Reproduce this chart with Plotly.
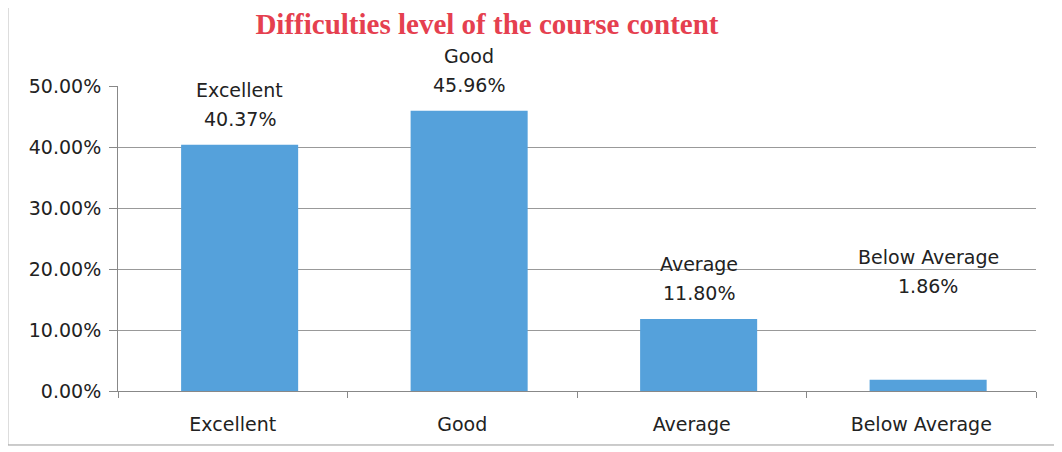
import plotly.graph_objects as go

categories = ["Excellent", "Good", "Average", "Below Average"]
values = [40.37, 45.96, 11.80, 1.86]
# where Excel left each data label (Below Average was dragged up by hand)
label_y = [40.37, 45.96, 11.80, 13.0]
y_ticks = [0, 10, 20, 30, 40, 50]
y_tick_text = ["0.00%", "10.00%", "20.00%", "30.00%", "40.00%", "50.00%"]

label_font = dict(family="DejaVu Sans, sans-serif", size=19, color="#222")

fig = go.Figure()
fig.add_trace(go.Bar(
    x=categories, y=values, width=0.51, offset=-0.225,
    marker=dict(color="#55A1DB", line=dict(width=0)),
    hovertemplate="%{x}: %{y:.2f}%<extra></extra>",
))

for cat, val, ly in zip(categories, values, label_y):
    # value line just above the bar, category name one line higher
    fig.add_annotation(x=cat, y=ly, text=f"{val:.2f}%", showarrow=False,
                       xshift=7, yanchor="middle", yshift=26, font=label_font)
    fig.add_annotation(x=cat, y=ly, text=cat, showarrow=False,
                       xshift=7, yanchor="middle", yshift=55, font=label_font)

# outer chart border like the Excel chart area
fig.add_shape(type="rect", xref="paper", yref="paper",
              x0=-0.12, x1=1.024, y0=-0.177, y1=1.3,
              line=dict(color="#999", width=1))

fig.update_layout(
    title=dict(text="<b>Difficulties level of the course content</b>",
               xref="container", x=0.451, xanchor="center",
               yref="container", y=0.964, yanchor="middle",
               font=dict(family="Liberation Serif, Times New Roman, serif", size=29, color="#E5404F")),
    width=1062, height=452,
    margin=dict(l=110, r=34, t=78, b=69),
    paper_bgcolor="white", plot_bgcolor="white",
    showlegend=False,
    font=label_font,
)
fig.update_xaxes(
    showline=True, linecolor="#888", linewidth=1,
    ticks="outside", tickson="boundaries", ticklen=6, tickcolor="#888",
    ticklabelstandoff=16,
    tickfont=label_font,
)
fig.update_yaxes(
    range=[0, 50], tickvals=y_ticks, ticktext=y_tick_text,
    showline=True, linecolor="#888", linewidth=1,
    ticks="outside", ticklen=8, tickcolor="#888", ticklabelstandoff=4,
    showgrid=True, gridcolor="#999", gridwidth=1, zeroline=False,
    tickfont=label_font,
)

fig.write_html("out.html")
